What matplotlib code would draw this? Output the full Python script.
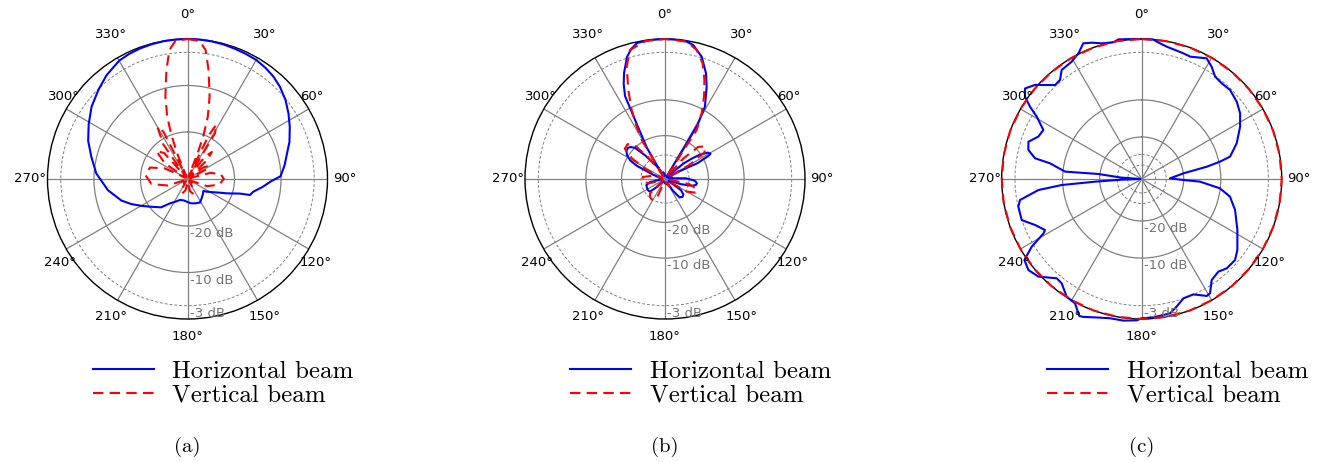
import numpy as np
import matplotlib
matplotlib.use('Agg')
import matplotlib.pyplot as plt
from matplotlib.lines import Line2D

# angles in degrees (clockwise from north), radius as fraction of the plot radius

# (a)
a_h_theta = [0, 5, 10, 15, 20, 25, 30, 35, 40, 45, 51, 57, 63, 70, 75.6, 82, 88.3, 91.8, 96,
             100.9, 104.4, 105.5, 110, 113, 118, 123.5, 127, 135, 143.8, 152, 163, 172, 182,
             190, 199.7, 207, 215.7, 223, 233.6, 240, 246, 252, 262, 273.5, 283, 291, 299, 307,
             315, 322, 330, 335, 340, 345, 350, 355, 360]
a_h_r = [1.0, 1.0, 0.998, 0.995, 0.99, 0.986, 0.982, 0.97, 0.955, 0.933, 0.9, 0.86, 0.82, 0.775,
         0.734, 0.70, 0.665, 0.593, 0.54, 0.479, 0.46, 0.39, 0.30, 0.25, 0.20, 0.164, 0.142,
         0.155, 0.171, 0.19, 0.182, 0.175, 0.162, 0.155, 0.159, 0.18, 0.214, 0.277, 0.333, 0.383,
         0.44, 0.497, 0.574, 0.653, 0.705, 0.76, 0.807, 0.858, 0.90, 0.94, 0.976, 0.986, 0.992,
         0.996, 0.999, 1.0, 1.0]

a_v_theta = [0, 5, 8, 11, 15, 18, 20, 21.5, 23,
             26, 28, 31, 34, 38, 42, 46, 50, 54, 58, 63, 70,
             75, 82, 90, 100, 110, 120, 130, 140, 150, 160, 168, 175,
             190, 200, 208, 215, 230, 245, 252, 262, 275, 287, 295, 300,
             305, 312, 318, 322, 325, 330, 333, 336,
             338, 340, 342, 345, 349, 352, 355, 360]
a_v_r = [1.0, 0.99, 0.93, 0.79, 0.61, 0.47, 0.34, 0.2, 0.02,
         0.35, 0.44, 0.38, 0.02, 0.2, 0.26, 0.2, 0.02, 0.14, 0.18, 0.15, 0.02,
         0.17, 0.24, 0.26, 0.23, 0.15, 0.02, 0.06, 0.02, 0.09, 0.11, 0.09, 0.02,
         0.08, 0.11, 0.08, 0.02, 0.05, 0.02, 0.15, 0.26, 0.30, 0.28, 0.18, 0.02,
         0.2, 0.3, 0.25, 0.02, 0.3, 0.43, 0.38, 0.02,
         0.2, 0.34, 0.47, 0.61, 0.79, 0.93, 0.99, 1.0]

# (b)
b_h_theta = [326, 329.9, 332.6, 333.8, 334.3, 336.5, 338.9, 342.7, 345.5, 348.4, 353.8, 360,
             366.2, 369, 371.9, 376.7, 381.2, 384.3, 388.9, 391, 391.5, 392,
             400, 405, 408, 410, 413, 415, 418.4, 421, 422, 424, 422, 420,
             430, 440, 448, 453, 456, 458, 461, 464, 468, 472,
             480, 485, 490, 493, 496, 499, 502, 506, 508,
             520, 540, 580, 585, 590, 595, 600, 606, 612, 618, 620, 625,
             640, 650, 655, 658, 662, 666, 670, 673, 676, 680,
             690, 700, 705, 720]
b_h_r = [0.026, 0.256, 0.418, 0.565, 0.658, 0.74, 0.812, 0.913, 0.96, 0.992, 0.999, 1.0,
         0.999, 0.993, 0.978, 0.912, 0.81, 0.723, 0.59, 0.45, 0.241, 0.02,
         0.04, 0.03, 0.05, 0.17, 0.25, 0.30, 0.36, 0.372, 0.35, 0.26, 0.12, 0.02,
         0.05, 0.03, 0.15, 0.21, 0.225, 0.23, 0.225, 0.20, 0.12, 0.03,
         0.03, 0.14, 0.17, 0.176, 0.178, 0.172, 0.16, 0.10, 0.03,
         0.04, 0.03, 0.02, 0.08, 0.14, 0.145, 0.145, 0.142, 0.14, 0.11, 0.05, 0.02,
         0.03, 0.09, 0.22, 0.28, 0.32, 0.34, 0.346, 0.335, 0.31, 0.22,
         0.09, 0.02, 0.05, 0.026]

b_v_theta = [329, 329.1, 331.6, 334.2, 337.6, 341.2, 344.8, 352, 360,
             369, 373.8, 378, 381.7, 385.4, 389.2, 392.9, 393, 396,
             398, 402, 406, 411, 416, 420, 422,
             455, 462, 468, 474, 480, 485, 510, 540,
             555, 563, 570, 578, 586, 592,
             605, 615, 625, 635, 643, 648,
             657, 662, 667, 673, 678, 682, 686, 689]
b_v_r = [0.02, 0.325, 0.425, 0.547, 0.688, 0.848, 0.955, 0.995, 1.0,
         0.993, 0.949, 0.869, 0.761, 0.65, 0.537, 0.417, 0.2, 0.02,
         0.02, 0.2, 0.33, 0.37, 0.34, 0.2, 0.02,
         0.02, 0.18, 0.24, 0.24, 0.18, 0.02, 0.06, 0.02,
         0.02, 0.14, 0.175, 0.17, 0.15, 0.02,
         0.02, 0.12, 0.165, 0.16, 0.10, 0.02,
         0.15, 0.28, 0.36, 0.365, 0.33, 0.2, 0.08, 0.02]

# (c)
c_h_theta = [0, 4.8, 6.2, 10.7, 18.3, 21.6, 28.3, 31.9, 35.6, 39.9, 44.8, 50.9, 56.3, 62,
             69.4, 75.8, 77.5, 79.3, 82.3, 88.7, 91.4, 92.6, 96.8, 101.3, 108.4, 118, 126.6,
             131, 136.4, 140.4, 145.3, 149.1, 150.9, 155.9, 160.7, 164.7, 168.1, 175.2, 180,
             182, 187.4, 192.8, 198, 203, 204.5, 208.2, 212.5, 217.5, 220.6, 226.6, 231.2,
             235.4, 238.4, 241, 242.2, 246.7, 251.1, 257.4, 260.2, 263.9, 265.7, 266.7, 268,
             270, 274, 276.6, 275.5, 279.7, 281, 284.4, 288.2, 292.3, 296.5, 300.7, 302.9,
             305.2, 307.8, 311.4, 317.3, 320.5, 323.7, 329.2, 333.3, 336.7, 339.9, 343.6,
             348.3, 350.5, 355, 360]
c_h_r = [1.0, 1.0, 0.987, 0.962, 0.946, 0.94, 0.979, 0.945, 0.90, 0.891, 0.896, 0.875, 0.845,
         0.796, 0.725, 0.651, 0.573, 0.473, 0.30, 0.202, 0.298, 0.417, 0.563, 0.643, 0.703,
         0.774, 0.851, 0.883, 0.881, 0.859, 0.878, 0.951, 0.956, 0.903, 0.903, 0.945, 0.981,
         0.992, 0.995, 1.01, 1.02, 1.02, 1.04, 1.07, 1.075, 1.008, 0.997, 0.939, 0.934, 1.015,
         1.038, 1.018, 0.922, 0.802, 0.781, 0.83, 0.906, 0.903, 0.882, 0.742, 0.573, 0.334,
         0.15, 0.01, 0.15, 0.312, 0.55, 0.664, 0.776, 0.836, 0.852, 0.798, 0.785, 0.872, 0.95,
         1.02, 1.055, 1.016, 0.913, 0.917, 0.966, 0.976, 1.005, 1.055, 1.037, 1.01, 0.997,
         1.011, 1.003, 1.0]

c_v_theta = [0, 10, 20, 30, 40, 50, 60, 70, 80, 90, 100, 110, 120, 130, 140, 150, 160, 170,
             180, 190, 200, 210, 220, 230, 240, 250, 260, 270, 280, 290, 300, 310, 320, 330,
             340, 350, 360]
c_v_r = [1.0, 1.0, 1.0, 1.0, 1.0, 1.0, 1.0, 1.0, 1.0, 1.0, 1.0, 1.0, 1.0, 1.0, 1.0, 1.0, 1.0,
         1.0, 1.0, 1.0, 1.0, 1.0, 1.0, 1.0, 1.0, 1.0, 1.0, 1.0, 1.0, 1.0, 1.0, 1.0, 1.0, 1.0,
         1.0, 1.0, 1.0]

# range rings (radius, dashed?) and the labelled ones
a_rings = [0.336, 0.668, 0.905]
a_ring_dashed = [False, False, True]
a_label_r = [0.336, 0.668, 0.905]

b_rings = [0.172, 0.31, 0.565, 0.905]
b_ring_dashed = [True, False, False, True]
b_label_r = [0.31, 0.565, 0.905]

c_rings = [0.1, 0.175, 0.30, 0.565, 0.905]
c_ring_dashed = [True, True, False, False, True]
c_label_r = [0.30, 0.565, 0.905]

ring_labels = ['-20 dB', '-10 dB', '-3 dB']
angle_ticks = [0, 30, 60, 90, 120, 150, 180, 210, 240, 270, 300, 330]
captions = ['(a)', '(b)', '(c)']
legend_labels = ['Horizontal beam', 'Vertical beam']

# where the angle labels sit, pixels from the plot centre
angle_label_off = [(0, 165), (77, 144), (124, 82), (157, 0), (128, -83), (77, -137),
                   (0, -158), (-77, -137), (-128, -83), (-157, 0), (-124, 82), (-77, 144)]

W, H = 1329, 462
R = 140
CY = 179
centers = [187.5, 665, 1141.7]

BLUE = '#0000ff'
RED = '#ff0000'
GRID = '0.5'
DASH = (0, (5, 3))

fig = plt.figure(figsize=(W / 100, H / 100), dpi=100)


def draw_panel(cx, h_theta, h_r, v_theta, v_r, rings, dashed, label_r, caption):
    ax = fig.add_axes([(cx - R) / W, (H - CY - R) / H, 2 * R / W, 2 * R / H],
                      projection='polar')
    ax.set_theta_zero_location('N')
    ax.set_theta_direction(-1)

    ax.plot(np.deg2rad(h_theta), h_r, color=BLUE, lw=1.5, clip_on=False, zorder=4)
    ax.plot(np.deg2rad(v_theta), v_r, color=RED, lw=1.5, ls=DASH, clip_on=False, zorder=5)

    ax.set_ylim(0, 1)
    ax.set_thetagrids(angle_ticks, [''] * len(angle_ticks))
    ax.set_rgrids(rings, labels=[''] * len(rings))
    for gl, d in zip(ax.yaxis.get_gridlines(), dashed):
        if d:
            gl.set_linestyle((0, (3, 2)))
            gl.set_linewidth(0.7)
        else:
            gl.set_linewidth(0.9)
        gl.set_color(GRID)
    ax.xaxis.grid(True, color=GRID, lw=0.9)
    ax.spines['polar'].set_linewidth(1.0)

    for d, (dx, dy) in zip(angle_ticks, angle_label_off):
        fig.text((cx + dx) / W, 1 - (CY - dy) / H, f'{d}°', ha='center', va='center',
                 fontsize=9.5)

    for r, lab in zip(label_r, ring_labels):
        ax.annotate(lab, xy=(np.pi, r), xytext=(1.5, -1), textcoords='offset points',
                    ha='left', va='top', color='0.45', fontsize=9.5, zorder=6)

    handles = [Line2D([], [], color=BLUE, lw=1.5),
               Line2D([], [], color=RED, lw=1.5, ls=DASH)]
    fig.legend(handles, legend_labels, loc='upper left',
               bbox_to_anchor=((cx - 95) / W, 1 - 360 / H),
               frameon=False, prop={'family': 'cmr10', 'size': 18},
               handlelength=2.45, handletextpad=0.75, labelspacing=0.05,
               borderpad=0, borderaxespad=0)
    fig.text(cx / W, 1 - 447 / H, caption, ha='center', va='center',
             family='cmr10', size=15)


draw_panel(centers[0], a_h_theta, a_h_r, a_v_theta, a_v_r,
           a_rings, a_ring_dashed, a_label_r, captions[0])
draw_panel(centers[1], b_h_theta, b_h_r, b_v_theta, b_v_r,
           b_rings, b_ring_dashed, b_label_r, captions[1])
draw_panel(centers[2], c_h_theta, c_h_r, c_v_theta, c_v_r,
           c_rings, c_ring_dashed, c_label_r, captions[2])

fig.savefig('out.png', dpi=100)
